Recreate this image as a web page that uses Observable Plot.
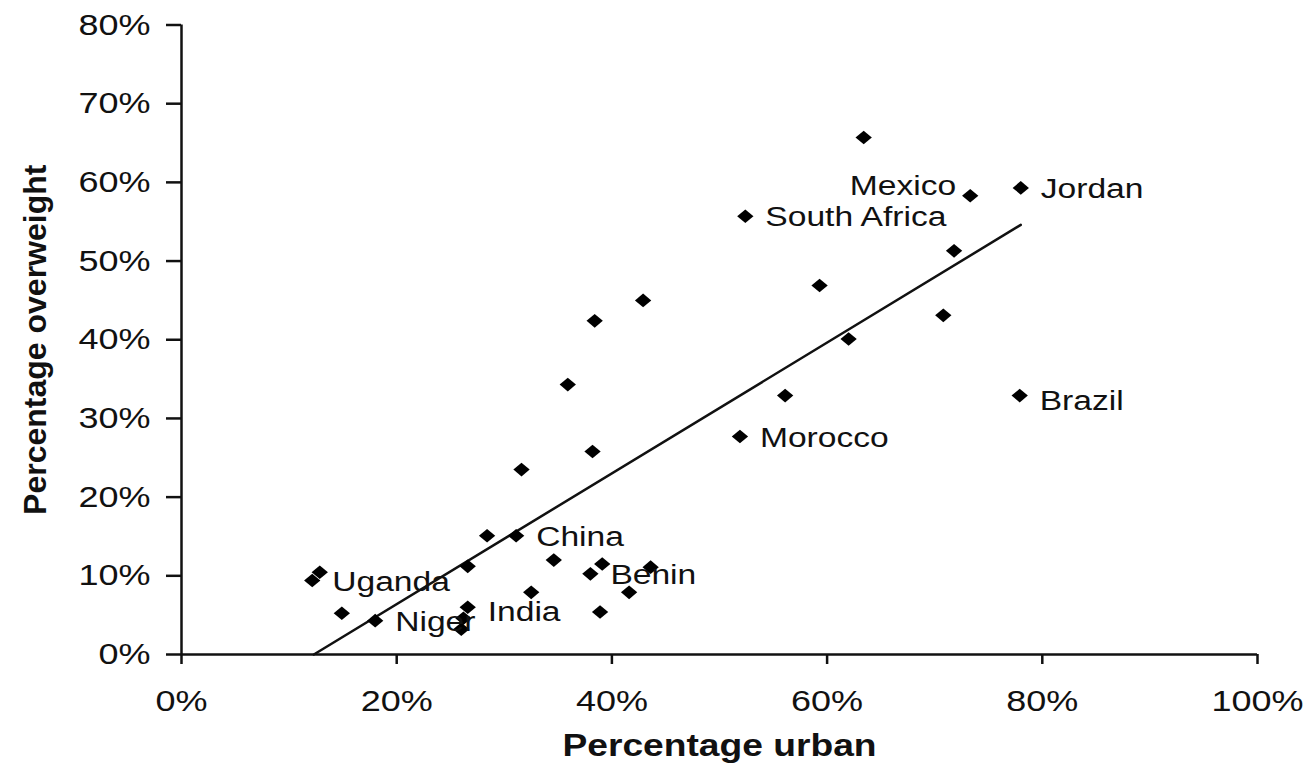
<!DOCTYPE html>
<html>
<head>
<meta charset="utf-8">
<script src="https://cdn.jsdelivr.net/npm/d3@7"></script>
<script src="https://cdn.jsdelivr.net/npm/@observablehq/plot@0.6"></script>
<style>
  html, body { margin: 0; padding: 0; background: #fff; }
  #chart { width: 1307px; height: 771px; }
</style>
</head>
<body>
<div id="chart"></div>
<script>
// Percentage urban (x) and percentage overweight (y)
const urban = [12.15, 12.85, 14.9, 18.0, 26.6, 26.6, 26.2, 26.0, 28.4, 31.1, 32.5, 34.6,
  38.0, 39.1, 41.6, 43.6, 38.9, 31.6, 38.2, 35.9, 38.4, 42.9, 51.9, 52.4, 56.1, 59.3,
  62.0, 63.4, 70.8, 71.8, 73.3, 78.0, 77.9];
const overweight = [9.4, 10.45, 5.25, 4.3, 11.2, 6.0, 4.6, 3.2, 15.1, 15.1, 7.9, 12.0,
  10.25, 11.5, 7.9, 11.1, 5.4, 23.5, 25.8, 34.3, 42.4, 45.0, 27.7, 55.7, 32.9, 46.9,
  40.1, 65.7, 43.1, 51.3, 58.3, 59.3, 32.9];
// Labelled countries: name and index of their point
const labelNames = ["Uganda", "Niger", "India", "China", "Benin", "Morocco", "South Africa", "Mexico", "Jordan", "Brazil"];
const labelIndex = [0, 3, 5, 9, 12, 22, 23, 30, 31, 32];
// Trend line end points
const trendUrban = [12.3, 78.0];
const trendOverweight = [0, 54.6];
const xTicks = [0, 20, 40, 60, 80, 100];
const yTicks = [0, 10, 20, 30, 40, 50, 60, 70, 80];

const points = urban.map((u, i) => ({u, o: overweight[i]}));
const labels = labelNames.map((name, k) => ({name, u: urban[labelIndex[k]], o: overweight[labelIndex[k]]}));
const trend = trendUrban.map((u, i) => ({u, o: trendOverweight[i]}));
const right = labels.filter(d => !["Mexico", "India", "Brazil"].includes(d.name));
const rightLow = labels.filter(d => ["India", "Brazil"].includes(d.name));
const left = labels.filter(d => d.name === "Mexico");

const diamond = {
  draw(ctx, size) {
    const r = Math.sqrt(size / Math.PI);
    ctx.moveTo(-r * 1.2, 0);
    ctx.lineTo(0, -r);
    ctx.lineTo(r * 1.2, 0);
    ctx.lineTo(0, r);
    ctx.closePath();
  }
};

const labelStyle = {fontSize: 28, fill: "#111"};

const svg = Plot.plot({
  width: 1307,
  height: 771,
  marginLeft: 181,
  marginRight: 50,
  marginTop: 24.5,
  marginBottom: 117,
  style: {fontFamily: "'Liberation Sans', Arial, sans-serif", background: "#fff", color: "#111"},
  x: {domain: [0, 100]},
  y: {domain: [0, 80]},
  marks: [
    Plot.axisX(xTicks, {tickSize: 10, tickPadding: 25, fontSize: 30, strokeWidth: 2.5, tickFormat: d => d + "%", label: null}),
    Plot.axisY(yTicks, {tickSize: 15, tickPadding: 16, fontSize: 30, strokeWidth: 2.5, tickFormat: d => d + "%", label: null}),
    Plot.ruleY([0], {stroke: "#111", strokeWidth: 2.5}),
    Plot.ruleX([0], {stroke: "#111", strokeWidth: 2.5}),
    Plot.line(trend, {x: "u", y: "o", stroke: "#111", strokeWidth: 2.5}),
    Plot.dot(points, {x: "u", y: "o", symbol: diamond, r: 6.8, fill: "#000", stroke: "none"}),
    Plot.text(right, {x: "u", y: "o", text: "name", textAnchor: "start", dx: 20, dy: 1, ...labelStyle}),
    Plot.text(rightLow, {x: "u", y: "o", text: "name", textAnchor: "start", dx: 20, dy: 5, ...labelStyle}),
    Plot.text(left, {x: "u", y: "o", text: "name", textAnchor: "end", dx: -14, dy: -10, ...labelStyle}),
    Plot.text(["Percentage urban"], {frameAnchor: "bottom", dy: 101, fontSize: 31, fontWeight: "bold", fill: "#111"}),
    Plot.text(["Percentage overweight"], {frameAnchor: "left", textAnchor: "middle", dx: -146, rotate: -90, fontSize: 32, fontWeight: "bold", fill: "#111"})
  ]
});

document.getElementById("chart").appendChild(svg);

// the reference's text is horizontally stretched; stretch each non-rotated text around its anchor point
svg.querySelectorAll("text").forEach(t => {
  const tr = t.getAttribute("transform") || "";
  if (tr.includes("rotate")) return;
  const b = t.getBBox();
  const anchor = getComputedStyle(t).textAnchor;
  const ax = anchor === "end" ? b.x + b.width : anchor === "middle" ? b.x + b.width / 2 : b.x;
  t.setAttribute("transform", `${tr} translate(${ax},0) scale(1.2,1) translate(${-ax},0)`);
});
</script>
</body>
</html>
